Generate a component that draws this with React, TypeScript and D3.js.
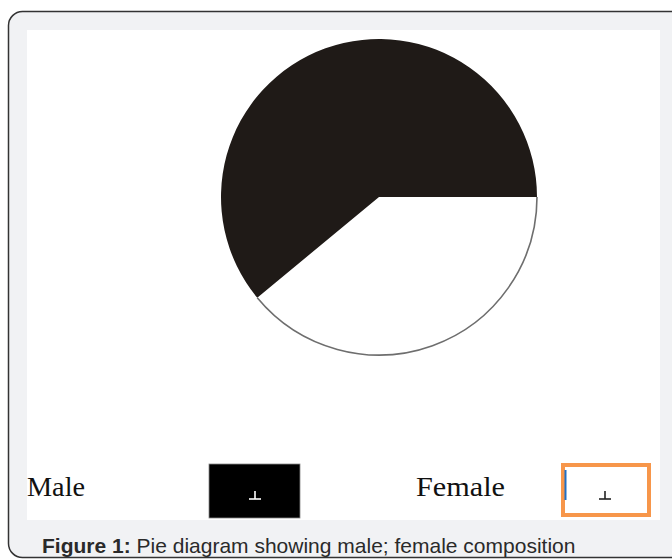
import React from 'react'
import * as d3 from 'd3'

// pie data (share of respondents, %)
const groups = ['Female', 'Male']
const shares = [39, 61]
const fills = ['#ffffff', '#1f1a17']

// legend entries, in the order they sit along the bottom
const legendLabels = ['Male', 'Female']
const legendWidths = [58, 89]

const captionBold = 'Figure 1:'
const captionText = ' Pie diagram showing male; female composition'

const W = 672
const H = 560

// little "⊥" marks sitting inside the legend swatches
function Tack({ x, y, color }: { x: number; y: number; color: string }) {
  return (
    <g stroke={color} strokeWidth={1.6}>
      <line x1={x - 6} x2={x + 6} y1={y} y2={y} />
      <line x1={x} x2={x} y1={y - 8} y2={y} />
    </g>
  )
}

export default function App() {
  const cx = 379
  const cy = 197
  const r = 158

  // white slice starts at 3 o'clock and runs clockwise
  const pie = d3
    .pie<number>()
    .sort(null)
    .startAngle(Math.PI / 2)
    .endAngle(Math.PI / 2 + 2 * Math.PI)
  const arcs = pie(shares)
  const arc = d3.arc<d3.PieArcDatum<number>>().innerRadius(0).outerRadius(r)

  // legend positions
  const legendX = d3.scalePoint<string>().domain(legendLabels).range([27, 416])

  return (
    <svg
      width={W}
      height={H}
      style={{ position: 'absolute', left: 0, top: 0, background: '#ffffff' }}
    >
      {/* outer card */}
      <rect
        x={8.5}
        y={11.5}
        width={680}
        height={546}
        rx={14}
        fill="#f1f2f4"
        stroke="#333"
        strokeWidth={1.5}
      />
      {/* figure area */}
      <rect x={27} y={30} width={633} height={490} fill="#ffffff" />

      <g transform={`translate(${cx},${cy})`}>
        {arcs.map((a, i) => (
          <path key={groups[i]} d={arc(a) || ''} fill={fills[i]} />
        ))}
        <path
          d={
            d3.arc()({
              innerRadius: r,
              outerRadius: r,
              startAngle: arcs[0].startAngle,
              endAngle: arcs[0].endAngle,
            }) || ''
          }
          fill="none"
          stroke="#6e6e6e"
          strokeWidth={1.6}
        />
      </g>

      {/* legend */}
      {legendLabels.map((l, i) => (
        <text
          key={l}
          x={legendX(l)}
          y={496}
          fontFamily="Liberation Serif, DejaVu Serif, serif"
          fontSize={28}
          textLength={legendWidths[i]}
          lengthAdjust="spacingAndGlyphs"
          fill="#111"
        >
          {l}
        </text>
      ))}
      <rect x={209} y={464} width={91} height={54} fill="#000" stroke="#888" strokeWidth={0.8} />
      <Tack x={255} y={499} color="#fff" />
      <rect x={563} y={465} width={86} height={50} fill="#fff" stroke="#f7964a" strokeWidth={4} />
      <line x1={565.5} x2={565.5} y1={470} y2={500} stroke="#1f6fc5" strokeWidth={2} />
      <Tack x={605} y={499} color="#222" />

      {/* caption */}
      <text
        x={42}
        y={553}
        fontFamily="Liberation Sans, Arial, sans-serif"
        fontSize={21}
        fill="#2a2a2a"
      >
        <tspan fontWeight="bold">{captionBold}</tspan>
        <tspan>{captionText}</tspan>
      </text>
    </svg>
  )
}
